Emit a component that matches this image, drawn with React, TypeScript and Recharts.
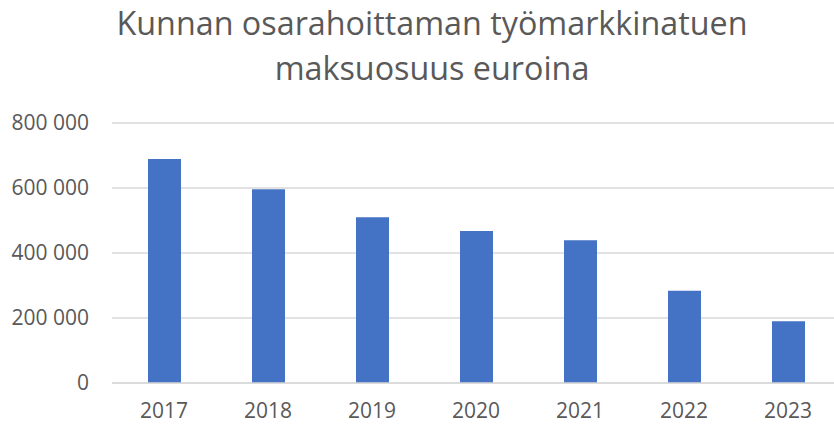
import React from "react";
import { BarChart, Bar, XAxis, YAxis, CartesianGrid } from "recharts";

const years = ["2017", "2018", "2019", "2020", "2021", "2022", "2023"];
const amounts = [689000, 596000, 510000, 468000, 439000, 284000, 190000];
const yTicks = [0, 200000, 400000, 600000, 800000];
const titleLines = ["Kunnan osarahoittaman työmarkkinatuen", "maksuosuus euroina"];

const data = years.map((y, i) => ({ year: y, value: amounts[i] }));

const fmt = (v: number) => {
  if (v === 0) return "0";
  const s = String(v);
  return s.replace(/\B(?=(\d{3})+(?!\d))/g, " ");
};

const FONT = "'Open Sans', sans-serif";
const lineHeights = ["41px", "49px"];

export default function App() {
  return (
    <div style={{ position: "absolute", left: 0, top: 0, width: 850, height: 425, background: "#fff", fontFamily: FONT }}>
      <div
        style={{
          position: "absolute",
          left: 0,
          top: 2,
          width: 864,
          textAlign: "center",
          color: "#595959",
          fontSize: 32.3,
          fontFamily: FONT,
        }}
      >
        {titleLines.map((t, i) => (
          <div key={t} style={{ lineHeight: lineHeights[i] }}>{t}</div>
        ))}
      </div>
      <BarChart
        width={850}
        height={425}
        data={data}
        margin={{ top: 123, right: 10, left: 12, bottom: 0 }}
        barSize={33}
      >
        <CartesianGrid vertical={false} stroke="#d9d9d9" strokeWidth={1.3} />
        <XAxis
          dataKey="year"
          axisLine={{ stroke: "#d9d9d9", strokeWidth: 1.3 }}
          tickLine={false}
          height={42}
          tick={{ fill: "#595959", fontSize: 21, fontFamily: FONT }}
          tickMargin={14}
        />
        <YAxis
          width={100}
          domain={[0, 800000]}
          ticks={yTicks}
          tickFormatter={fmt}
          axisLine={false}
          tickLine={false}
          tick={{ fill: "#595959", fontSize: 21, fontFamily: FONT }}
          tickMargin={17}
        />
        <Bar dataKey="value" fill="#4472c4" isAnimationActive={false} />
      </BarChart>
    </div>
  );
}
